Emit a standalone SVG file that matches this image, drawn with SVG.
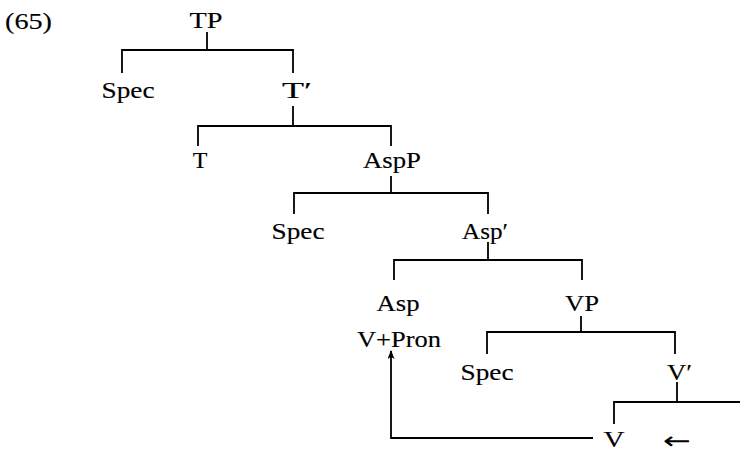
<svg xmlns="http://www.w3.org/2000/svg" width="740" height="451" viewBox="0 0 740 451">
<style>
text{font-family:"Liberation Serif",serif;font-size:24px;fill:#000;stroke:#000;stroke-width:0.15;}
.c{text-anchor:middle;}
.ln{stroke:#000;stroke-width:1.8;fill:none;stroke-linecap:square;}
.arr{font-family:"DejaVu Sans",sans-serif;font-size:24px;stroke-width:0;}
</style>
<defs>
<marker id="ah" markerWidth="9" markerHeight="7" refX="8" refY="3.5" orient="auto" markerUnits="userSpaceOnUse" viewBox="0 0 9 7">
<path d="M0,0 L9,3.5 L0,7 L2,3.5 Z" fill="#000"/>
</marker>
</defs>
<rect width="740" height="451" fill="#fff"/>
<text id="ex" x="5" y="29" textLength="47" lengthAdjust="spacingAndGlyphs">(65)</text>
<g id="connectors">
<path class="ln" d="M207,33V50M122,72V50H293V72"/>
<path class="ln" d="M293,107V126M198,145V126H391V145"/>
<path class="ln" d="M391,177V193M294,213V193H488V213"/>
<path class="ln" d="M488,243V260M394,279V260H582V279"/>
<path class="ln" d="M581,317V332M487,353V332H675V353"/>
<path class="ln" d="M677,383V402M614,423V402H740"/>
<path class="ln" d="M593,438H391V351" marker-end="url(#ah)" style="stroke-linecap:butt"/>
</g>
<g id="n-TP"><text class="c" x="206" y="28" textLength="33" lengthAdjust="spacingAndGlyphs">TP</text></g>
<g id="n-Spec1"><text class="c" x="128" y="98" textLength="53" lengthAdjust="spacingAndGlyphs">Spec</text></g>
<g id="n-Tbar"><text x="282" y="98" textLength="30" lengthAdjust="spacingAndGlyphs">T′</text></g>
<g id="n-T"><text class="c" x="200" y="168">T</text></g>
<g id="n-AspP"><text class="c" x="392" y="168" textLength="58" lengthAdjust="spacingAndGlyphs">AspP</text></g>
<g id="n-Spec2"><text class="c" x="298" y="239" textLength="53" lengthAdjust="spacingAndGlyphs">Spec</text></g>
<g id="n-Aspbar"><text x="462" y="239" textLength="46" lengthAdjust="spacingAndGlyphs">Asp′</text></g>
<g id="n-Asp"><text class="c" x="398" y="311" textLength="43" lengthAdjust="spacingAndGlyphs">Asp</text>
<text class="c" x="399" y="347" textLength="84" lengthAdjust="spacingAndGlyphs">V+Pron</text></g>
<g id="n-VP"><text class="c" x="582" y="311" textLength="34" lengthAdjust="spacingAndGlyphs">VP</text></g>
<g id="n-Spec3"><text class="c" x="487" y="380" textLength="53" lengthAdjust="spacingAndGlyphs">Spec</text></g>
<g id="n-Vbar"><text x="667" y="380" textLength="25" lengthAdjust="spacingAndGlyphs">V′</text></g>
<g id="n-V"><text class="c" x="614" y="447" textLength="21" lengthAdjust="spacingAndGlyphs">V</text></g>
<text id="arrow-mark" class="arr" x="663" y="449" textLength="28" lengthAdjust="spacingAndGlyphs">←</text>
</svg>
